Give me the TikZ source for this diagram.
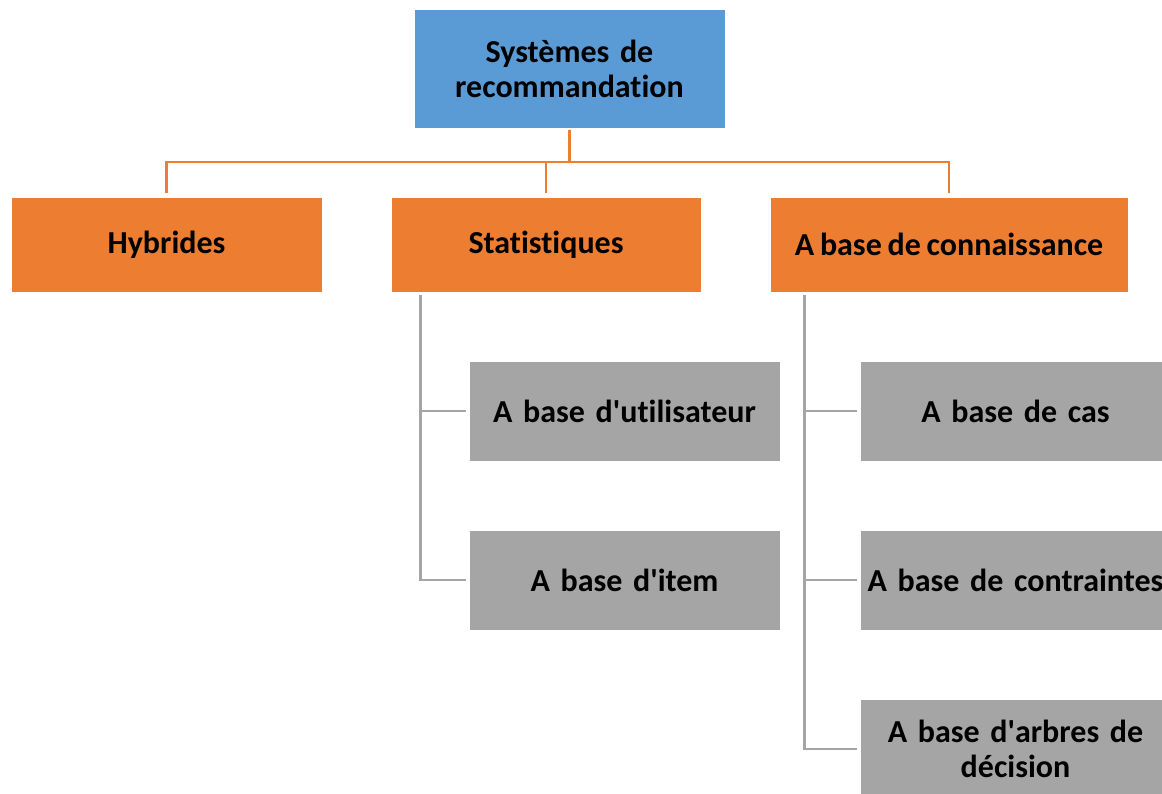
\documentclass[tikz,border=0pt]{standalone}
\usepackage{fontspec}
\setmainfont[Ligatures={NoCommon},WordSpace=0.8]{Carlito}
\definecolor{cblue}{HTML}{5B9BD5}
\definecolor{corange}{HTML}{ED7D31}
\definecolor{cgray}{HTML}{A5A5A5}
\begin{document}
\begin{tikzpicture}[x=1pt,y=-1pt,
  box/.style={draw=white,line width=0.8pt,align=center,inner sep=0pt,
    font=\fontsize{32}{35}\selectfont\bfseries},
  topbox/.style={box,fill=cblue,minimum width=311pt,minimum height=119pt,text width=300pt},
  obox/.style={box,fill=corange,minimum height=95pt},
  gbox/.style={box,fill=cgray,minimum width=311pt,minimum height=100pt,text width=309pt},
  oline/.style={draw=corange,line width=2.5pt},
  gline/.style={draw=cgray,line width=2.5pt}]
\useasboundingbox (0,0) rectangle (1162,793);
\clip (0,0) rectangle (1162,793);
\node[topbox] (top) at (569.5,68.5) {Systèmes de\\recommandation};
\node[obox,minimum width=311pt] (hyb) at (166.5,244.5) {Hybrides};
\node[obox,minimum width=310pt] (stat) at (546,244.5) {Statistiques};
\node[obox,minimum width=358pt] (kb) at (949,244.5) {A base de connaissance};
\node[gbox] (util) at (624.5,411) {A base d\textquotesingle utilisateur};
\node[gbox] (item) at (624.5,580) {A base d\textquotesingle item};
\node[gbox] (cas) at (1015.5,411) {A base de cas};
\node[gbox] (contr) at (1015.5,580) {A base de contraintes};
\node[gbox] (arb) at (1015.5,749) {A base d\textquotesingle arbres de\\décision};
\coordinate (bus) at (569.5,162);
\draw[oline,shorten <=2pt] (top.south) -- (top.south |- bus);
\draw[oline,shorten <=4pt,shorten >=4pt] (hyb.north) |- (bus) -| (kb.north);
\draw[oline,shorten >=4pt] (stat.north |- bus) -- (stat.north);
\draw[gline,shorten >=3pt] ([xshift=30pt,yshift=-3pt]stat.south west) |- (util.west);
\draw[gline,shorten >=3pt] ([xshift=30pt,yshift=-3pt]stat.south west) |- (item.west);
\draw[gline,shorten >=3pt] ([xshift=35pt,yshift=-3pt]kb.south west) |- (cas.west);
\draw[gline,shorten >=3pt] ([xshift=35pt,yshift=-3pt]kb.south west) |- (contr.west);
\draw[gline,shorten >=3pt] ([xshift=35pt,yshift=-3pt]kb.south west) |- (arb.west);
\end{tikzpicture}
\end{document}
